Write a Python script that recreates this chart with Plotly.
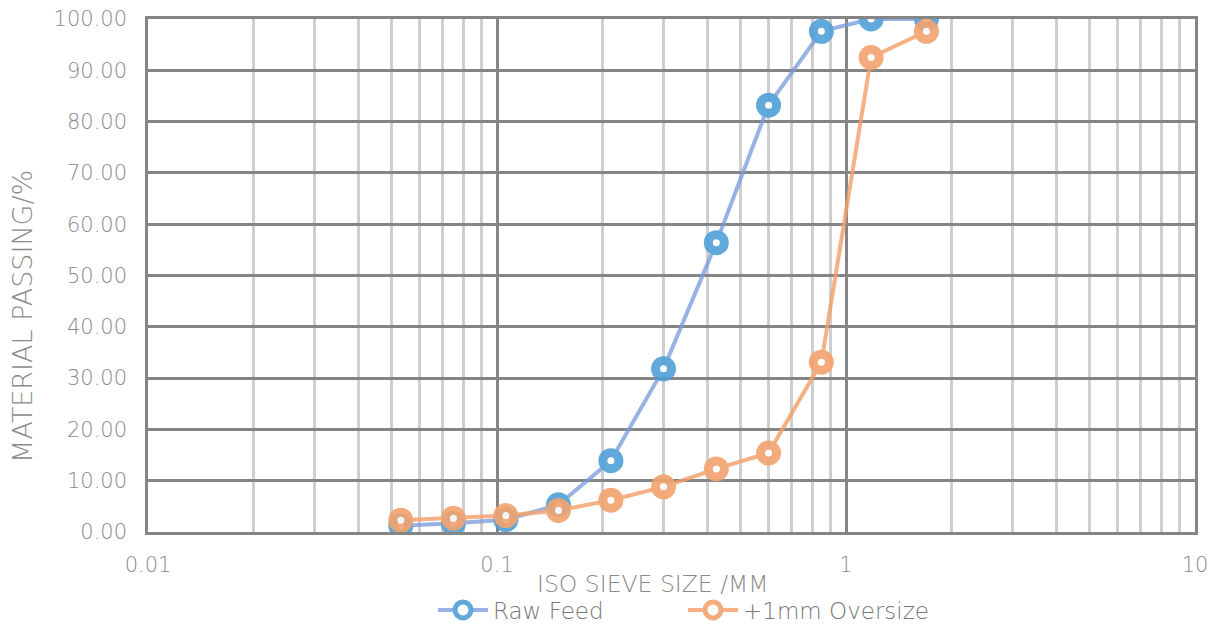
import plotly.graph_objects as go

# Sieve apertures (mm) and cumulative passing (%)
sieve_mm = [0.053, 0.075, 0.106, 0.15, 0.212, 0.3, 0.425, 0.6, 0.85, 1.18, 1.7]
raw_feed = [1.2, 1.7, 2.4, 5.3, 13.9, 31.8, 56.4, 83.2, 97.6, 100.0, 100.0]
oversize = [2.3, 2.7, 3.2, 4.2, 6.2, 8.8, 12.3, 15.4, 33.1, 92.5, 97.6]

x_ticks = [0.01, 0.1, 1, 10]
x_tick_text = ["0.01", "0.1", "1", "10"]
y_ticks = [0, 10, 20, 30, 40, 50, 60, 70, 80, 90, 100]

FONT = dict(family="DejaVu Sans", weight=200, color="#8a8a8a", size=21)
MAJOR = "#858585"
MINOR = "#cfcfcf"

fig = go.Figure()


def add_series(name, y, line_color, marker_color):
    fig.add_trace(go.Scatter(
        x=sieve_mm, y=y, name=name, mode="lines+markers",
        line=dict(color=line_color, width=4),
        marker=dict(symbol="circle", size=16, color="white",
                    line=dict(color=marker_color, width=9)),
        opacity=0.9,
    ))


add_series("Raw Feed", raw_feed, "rgba(120,155,220,0.85)", "#4fa0d6")
add_series("+1mm Oversize", oversize, "rgba(243,160,105,0.9)", "#f3a36e")

fig.update_layout(
    width=1217, height=625,
    margin=dict(l=148, r=22, t=19, b=93, autoexpand=False),
    paper_bgcolor="white", plot_bgcolor="white",
    font=FONT,
    showlegend=True,
    legend=dict(orientation="h", x=0.511, xanchor="center", y=-0.152, yanchor="middle",
                font=dict(FONT, size=23, color="#777777"),
                entrywidth=185, itemwidth=50, bgcolor="rgba(0,0,0,0)"),
    xaxis=dict(
        type="log", range=[-2, 1], tickvals=x_ticks, ticktext=x_tick_text,
        showgrid=True, gridcolor=MAJOR, gridwidth=2.5,
        minor=dict(showgrid=True, gridcolor=MINOR, gridwidth=2.5, dtick="D1",
                   ticks=""),
        showline=True, linecolor=MAJOR, linewidth=2.5, mirror=True,
        zeroline=False, ticks="", ticklabelstandoff=12,
        layer="below traces",
    ),
    yaxis=dict(
        range=[0, 100], tickvals=y_ticks, tickformat=".2f",
        showgrid=True, gridcolor=MAJOR, gridwidth=2.5,
        showline=True, linecolor=MAJOR, linewidth=2.5, mirror=True,
        zeroline=False, ticks="", ticklabelstandoff=14,
    ),
    annotations=[
        dict(text="MATERIAL PASSING/%", textangle=-90, xref="paper", yref="paper",
             x=-0.12, y=0.42, xanchor="center", yanchor="middle", showarrow=False,
             font=dict(FONT, size=27)),
        dict(text="ISO SIEVE SIZE /MM", xref="paper", yref="paper",
             x=0.482, y=-0.102, xanchor="center", yanchor="middle", showarrow=False,
             font=dict(FONT, size=23.5)),
    ],
)

fig.write_html("out.html")
